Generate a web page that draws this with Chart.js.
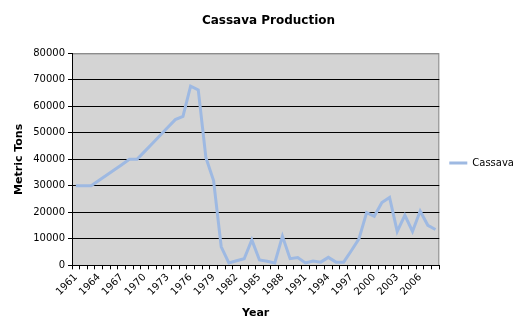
<!DOCTYPE html>
<html>
<head>
<meta charset="utf-8">
<script src="https://cdn.jsdelivr.net/npm/chart.js@4/dist/chart.umd.min.js"></script>
<style>
  html, body { margin: 0; padding: 0; background: #fff; }
  canvas { display: block; }
</style>
</head>
<body>
<canvas id="grafico" width="528" height="331"></canvas>
<script>
const anos = [];
for (let a = 1961; a <= 2008; a++) anos.push(String(a));

const producao = [
  30000, 30000, 30000, 32000, 34000, 36000, 38000, 40000, 40000, 43000,
  46000, 49000, 52000, 55000, 56200, 67600, 66200, 40600, 32000, 7000,
  900, 1700, 2500, 9600, 2000, 1500, 900, 11000, 2500, 2900,
  900, 1600, 1200, 3000, 1200, 1200, 5500, 10000, 19900, 18500,
  23700, 25600, 12800, 18900, 12800, 20500, 15100, 13500
];

const yTicks = [0, 10000, 20000, 30000, 40000, 50000, 60000, 70000, 80000];

const fonte = 'DejaVu Sans';

// fundo cinza da área do gráfico + borda superior/direita
const fundoArea = {
  id: 'fundoArea',
  beforeDraw(chart) {
    const { ctx, chartArea: a } = chart;
    ctx.save();
    ctx.fillStyle = '#d4d4d4';
    ctx.fillRect(a.left, a.top, a.right - a.left, a.bottom - a.top);
    ctx.strokeStyle = '#8c8c8c';
    ctx.lineWidth = 1;
    ctx.beginPath();
    ctx.moveTo(a.left, a.top + 0.5);
    ctx.lineTo(a.right - 0.5, a.top + 0.5);
    ctx.lineTo(a.right - 0.5, a.bottom);
    ctx.stroke();
    ctx.restore();
  }
};

new Chart(document.getElementById('grafico'), {
  type: 'line',
  data: {
    labels: anos,
    datasets: [{
      label: 'Cassava',
      data: producao,
      borderColor: 'rgb(158,185,226)',
      backgroundColor: 'rgb(158,185,226)',
      borderWidth: 3,
      tension: 0,
      pointRadius: 0,
      fill: false
    }]
  },
  plugins: [fundoArea],
  options: {
    responsive: false,
    animation: false,
    devicePixelRatio: 1,
    layout: { padding: { left: 13, right: 4, top: 6, bottom: 11 } },
    plugins: {
      title: {
        display: true,
        text: 'Cassava Production',
        color: '#000',
        font: { family: fonte, size: 12, weight: 'bold' },
        padding: { top: 8, bottom: 25 }
      },
      legend: {
        position: 'right',
        labels: {
          usePointStyle: true,
          pointStyle: 'line',
          pointStyleWidth: 18,
          boxWidth: 18,
          color: '#000',
          font: { family: fonte, size: 10 },
          padding: 10
        }
      },
      tooltip: { enabled: false }
    },
    scales: {
      x: {
        type: 'category',
        offset: true,
        grid: {
          offset: true,
          drawOnChartArea: false,
          drawTicks: true,
          tickLength: 4,
          tickColor: '#000'
        },
        border: { color: '#000', width: 1 },
        ticks: {
          autoSkip: false,
          maxRotation: 45,
          minRotation: 45,
          color: '#000',
          font: { family: fonte, size: 10 },
          padding: 2,
          callback: (v, i) => (i % 3 === 0 ? anos[i] : '')
        },
        title: {
          display: true,
          text: 'Year',
          color: '#000',
          font: { family: fonte, size: 11, weight: 'bold' },
          padding: { top: 7, bottom: 0 }
        }
      },
      y: {
        min: 0,
        max: 80000,
        afterBuildTicks: s => { s.ticks = yTicks.map(v => ({ value: v })); },
        grid: {
          color: c => (c.tick && c.tick.value === 80000 ? '#8c8c8c' : '#000'),
          tickColor: '#000',
          tickLength: 4,
          lineWidth: 1
        },
        border: { color: '#000', width: 1 },
        ticks: {
          color: '#000',
          font: { family: fonte, size: 10 },
          padding: 3,
          callback: v => String(v)
        },
        title: {
          display: true,
          text: 'Metric Tons',
          color: '#000',
          font: { family: fonte, size: 11, weight: 'bold' },
          padding: { top: 0, bottom: 4 }
        }
      }
    }
  }
});
</script>
</body>
</html>
